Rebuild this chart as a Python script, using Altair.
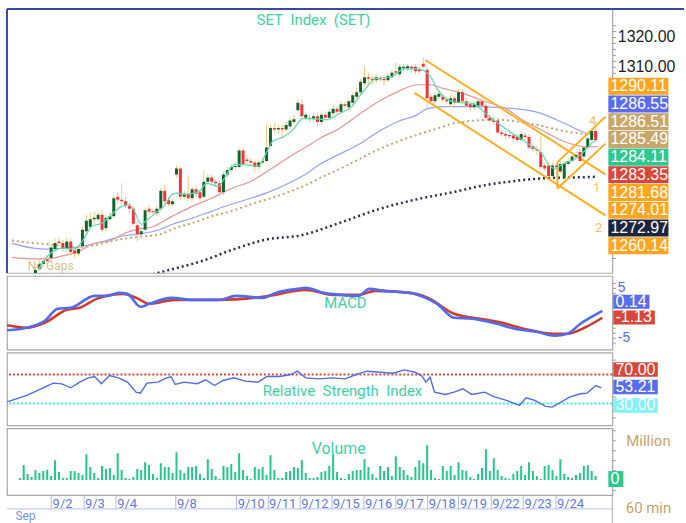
import altair as alt
import pandas as pd

# ---------------- candle data (hourly bars, index 0..147) ----------------
OPEN = [1238,1237,1238,1236.5,1239,1242.5,1244,1245.5,
 1246,1249,1251.5,1251,1249,1251.5,1248.5,1247.5,
 1250,1255,1256.5,1259,1259,1260.5,1256,1259,
 1260,1266.5,1265.5,1265,1263.5,1262.5,1257,1254,
 1255.5,1262.5,1261.7,1261,1262.5,1268.5,1265.5,1264,
 1274,1276,1266.5,1267.5,1266,1269,1268,1266.5,
 1271.5,1273,1271.5,1271,1268,1274,1275.5,1276.5,
 1276.5,1282,1279,1278.5,1278,1276.5,1278,1278.5,
 1283.5,1289.5,1289,1289.5,1289,1290,1291.5,1295.5,
 1297.5,1293,1293,1292.5,1293.5,1291.5,1294,1293,
 1294.5,1296,1295,1297.5,1296.5,1298,1300,1301.5,
 1304.5,1306.5,1306,1305.5,1306.2,1306,1305.5,1306.5,
 1308.5,1307.5,1309.5,1309.5,1310,1310,1309,1311,
 1309,1300,1298.5,1300,1300,1299,1297.5,1299.5,
 1298,1301.5,1298.5,1297.5,1296.5,1297,1298.5,1297,
 1293,1292,1292,1288,1287.5,1287.2,1287,1286.5,
 1285.5,1287,1286.5,1283.5,1282.5,1281.5,1277,1277,
 1273.5,1277,1275,1272.7,1277.5,1278.5,1280,1281.5,
 1280,1283,1285.5,1288.5]
HIGH = [1239,1239,1238.5,1239.5,1243,1245.5,1246.5,1247,
 1250.5,1252.5,1253,1252,1253,1252.5,1249.5,1250,
 1256.5,1260.5,1261,1261.5,1261.5,1262,1260.5,1261.5,
 1267,1268,1271,1266.5,1264.5,1263.5,1258,1256.5,
 1263,1264,1262.5,1263.5,1269.5,1270.5,1266.5,1266,
 1277,1276.5,1268.5,1273.5,1270,1270.5,1269,1275.5,
 1274,1274,1272.5,1272,1275,1276.5,1277.5,1278,
 1283,1283,1280.5,1279.5,1279,1279,1279.5,1291,
 1290.5,1291,1290.5,1290.5,1291.5,1293,1294,1299,
 1299,1295,1294,1294.5,1294.5,1295,1295,1296,
 1297,1297,1298.5,1298.5,1299.5,1301.5,1303,1306,
 1310,1308,1307,1307.5,1307,1307,1308,1309,
 1311.5,1311,1311,1311,1310.5,1311,1310,1313,
 1310,1301,1301.5,1302,1301,1300,1300.5,1300.5,
 1302.5,1302.5,1299.5,1298.5,1298.5,1299.5,1299.5,1298,
 1294,1293.5,1293,1289,1288.5,1288,1288,1287.5,
 1288.5,1288,1287.5,1284.5,1283.5,1287,1278,1278,
 1278,1278,1278.5,1278.5,1279.5,1281,1281.5,1282.5,
 1283.5,1286.5,1289,1289.5]
LOW = [1236,1236.5,1235.5,1236,1238.5,1241.5,1243,1244,
 1245,1248,1250.5,1248,1248,1247,1246,1246.5,
 1249.5,1254,1256,1257.5,1258,1254.5,1255,1258.5,
 1259.5,1264.5,1264,1262.5,1261,1256.5,1251.5,1253,
 1255,1260.5,1260,1260,1261.5,1264,1263,1263.5,
 1273,1265.5,1265.5,1265,1265,1266.5,1265,1266,
 1270.5,1270.5,1270,1266.5,1267,1273,1274.5,1275.5,
 1276,1276.5,1277.5,1277,1275,1275.5,1277,1278,
 1283,1288,1287.5,1286,1288,1289,1290.5,1295,
 1292.5,1292,1291.5,1291.5,1290,1290.5,1292,1292.5,
 1293.5,1294,1294.5,1296,1295.5,1297,1299,1300.5,
 1303.5,1304,1304,1304.5,1305,1303.5,1305,1306,
 1307,1306.5,1308.5,1308.5,1308,1307.5,1307.5,1309.5,
 1296.5,1297.5,1297.5,1299,1298,1297.5,1296.5,1297,
 1297.5,1297.5,1296,1295.5,1295.5,1296,1296,1292,
 1291,1290.5,1287.5,1286.5,1286,1286,1285,1284.5,
 1285,1285.5,1282.5,1281.5,1280.5,1276,1275,1273,
 1273,1272.5,1274,1272,1277,1278,1279,1278,
 1279.5,1282.5,1285,1285]
CLOSE = [1237,1238,1236.5,1239,1242,1244,1245,1245,
 1249.5,1251,1251,1249,1251.5,1248,1247.5,1249,
 1255.5,1258.5,1259,1259.5,1260.5,1255.5,1259.5,1260,
 1266,1265.5,1265,1263.5,1262.5,1257.5,1254,1255,
 1262,1261.5,1261.3,1262.5,1268.5,1265,1264,1265,
 1276,1266.5,1267.5,1266,1269,1267.5,1266,1271.5,
 1273,1271.5,1271,1268,1274,1275.5,1276.5,1276.8,
 1282,1277.5,1278.5,1278,1276.5,1278,1278.5,1283,
 1289.5,1289,1289.5,1289,1290.5,1292,1292.5,1298,
 1293.5,1294,1292.5,1293.5,1291.5,1294,1293,1295,
 1296,1295,1297.5,1297,1298.5,1300.5,1301.5,1305,
 1306.5,1306,1305.5,1306.5,1305.8,1305.5,1307,1308,
 1308,1310,1310,1310.2,1309.5,1308.5,1308.5,1310,
 1299.5,1298.5,1300.5,1301,1299,1298.5,1299.5,1298,
 1301.5,1298.5,1297,1296.5,1297.5,1298.5,1297,1293,
 1292,1291.5,1288,1287.5,1287,1286.8,1286,1285.5,
 1287.5,1286.5,1283,1282.5,1282,1276.5,1276,1273.5,
 1277,1276.5,1277.5,1277.7,1278.5,1280,1280.5,1278.5,
 1283,1286,1288.5,1285.5]
VOLUME = [2,15,6,3,10,7,9,10,
 4,20,8,2,2,9,9,7,
 5,26,13,7,2,14,11,12,
 5,27,10,2,1,3,11,10,
 18,15,6,2,17,13,13,7,
 28,10,7,13,13,14,6,2,
 21,11,4,1,14,13,16,8,
 27,10,4,1,13,11,13,5,
 25,10,2,2,8,9,13,12,
 20,7,2,2,3,8,9,14,
 26,8,2,1,6,9,10,10,
 21,13,6,2,14,9,13,4,
 24,13,10,5,3,13,20,17,
 35,10,2,1,14,9,14,5,
 18,10,9,3,1,6,12,31,
 9,22,10,4,2,1,6,9,
 14,5,18,9,4,1,14,15,
 10,4,21,6,3,2,5,7,
 14,15,9,4]

# ---------------- moving averages (read at sample bars) ----------------
MA_GREEN_X = [4.75,8.5,11,14,16,18.5,21,23.5,26,27.75,29.25,31,32.75,35.25,36.75,39,40.25,42.25,45.75,47.75,50.75,52.25,54.75,57.25,60.75,62.75,64.5,67.25,69.75,72.25,74.75,78.25,81.5,84.75,87.25,90.75,94.75,98.25,101.5,104.75,106.5,108.25,110.75,115.75,119,122.25,125.75,128.25,130.75,133.25,134.75,136.5,139,141.5,143.25,144.75,146.5,147.5]
MA_GREEN_Y = [1242.3,1248.3,1249.3,1249,1251.7,1256.7,1257.7,1260.7,1263.3,1264,1261.7,1257.3,1259,1261.7,1263.3,1267.3,1267.7,1267.3,1268.3,1271,1270,1272.7,1277.3,1277.3,1276.7,1280.7,1285,1286.5,1289,1292.7,1292.7,1292.3,1294.3,1296.7,1301,1306,1306.7,1309.3,1309.3,1307,1302.7,1300,1298.3,1297.7,1294.3,1291,1287.7,1285.7,1283.3,1281,1277.7,1276,1277.7,1279,1280.7,1282.7,1285,1285.5]
MA_RED_X = [-2,3.5,6.75,11,15.25,18.5,22.75,26.75,30.25,33.5,38.5,44,49,54,59,64,69,73.25,76.5,81.5,86.5,91.5,96.5,101.5,104.75,108.25,111.5,114,119,124,129,134,139,144,147.5]
MA_RED_Y = [1246.2,1245.7,1245.7,1246.7,1248.3,1250.7,1251.7,1254.3,1255.7,1256.3,1259.7,1263.3,1266,1269.3,1271.7,1275.7,1280,1283.3,1286,1289.3,1294,1298.3,1301.7,1304,1304,1302.7,1301.7,1300.7,1298.3,1296,1291.7,1288.3,1285,1283.3,1283.3]
MA_BLUE_X = [-2,3.5,6.75,11,15.25,18.5,21.75,26,30.25,35.25,39,44,49,54,59,64,69,73.25,76.5,81.5,86.5,91.5,96.5,101.5,104,108.25,116.5,123.25,131.5,139.75,144.75,147.5]
MA_BLUE_Y = [1250.9,1249.3,1249,1249.3,1249.7,1250.7,1251.7,1253.3,1254,1255.3,1257.3,1259.3,1261.7,1264,1266,1268.3,1271.3,1274.3,1277.3,1280.7,1284,1288.3,1291.7,1294,1296,1296.7,1296.7,1296.3,1295,1290.7,1287.7,1287.3]
MA_TAN_X = [-2,3.5,6.75,11,15.25,19.25,23.5,27.75,31.75,36,39,44,49,54,59,64,69,74,76.5,81.5,86.5,91.5,96.5,101.5,106.5,111.5,121.5,131.5,139.75,147.5]
MA_TAN_Y = [1251.9,1251,1250.7,1250,1249.7,1250.3,1251.7,1252.7,1253.3,1254,1255.7,1257.7,1260,1261.7,1264,1266,1268.3,1271,1272.7,1275.7,1279,1282.3,1285,1287.3,1289.3,1291.3,1292.3,1290.7,1288.3,1287]
MA_NAVY_X = [-2,21.5,36,46.5,54.75,63.25,71.5,81.5,91.5,101.5,111.5,117.25,125.75,134,142.25,147.5]
MA_NAVY_Y = [1230,1236.5,1241.3,1245,1249,1252.3,1253.5,1257.7,1262.3,1265.7,1268.3,1270,1271.7,1272.7,1273,1273.2]

# ---------------- trend channels ----------------
CHANNEL_ID = ["d1","d1","d2","d2","a1","a1","a2","a2","v","v"]
CHANNEL_X = [103.5,149.5,100.75,149.5,137.25,149.5,137.25,149.5,137.25,137.25]
CHANNEL_Y = [1312.3,1274.0,1301.3,1260.3,1269.3,1284.3,1278.1,1293.3,1269.3,1278.1]
CHANNEL_LABELS = ["4","1","2"]
CHANNEL_LABEL_X = [146.25,147.25,147.75]
CHANNEL_LABEL_Y = [1291.7,1269.3,1256.0]

# ---------------- MACD / RSI ----------------
MACD_X = [-2,3,7.5,10.75,14,20,23.25,26,28.25,31.5,33.75,39.25,44.75,51.25,55.5,62.25,65.5,71,73,77.5,81.75,86.25,89,92.75,99.25,102.5,106,110.25,114.75,120,125.5,131,135.5,138.75,142,145.25,147.5]
MACD_Y = [-3.5,-3.0,-1.6,0.8,1.0,3.4,3.4,4.0,3.8,1.2,1.8,3.0,2.6,2.6,3.4,3.0,4.0,4.8,5.0,4.0,3.6,3.4,4.8,4.4,4.0,3.2,1.8,-1.0,-1.2,-2.0,-3.2,-3.8,-4.6,-4.2,-2.2,-0.6,0.4]
SIGNAL_X = [-2,3,7.5,13,16.25,20.5,27.25,30.5,33.75,40.25,51.25,62.25,73,79.75,86.25,90.5,99.25,103.75,110.25,116.75,122.25,127.75,135.5,138.75,143,147.5]
SIGNAL_Y = [-2.5,-3.0,-2.0,0.6,1.0,2.8,3.8,3.0,1.8,2.6,2.6,3.2,4.6,3.6,3.6,4.4,4.0,3.0,-0.2,-1.2,-2.0,-3.2,-4.2,-4.2,-3.0,-1.0]
RSI_X = [-2,3,7.5,9.6,11.75,14,16.25,18.4,20,21.7,23.75,26,28.25,30.4,31.5,33.15,35.9,37.5,39.2,40.25,42.45,45.75,47.9,50.1,52.25,55,57.75,61,63.25,66.5,69.25,70.9,73,76.4,79.65,82.9,85.7,88.4,91.7,95,97.7,100.45,102.1,103.2,104.25,105.35,108.1,110.25,112.5,114.65,117.95,120.1,123.4,126.7,128.35,130.5,133.25,134.9,137.1,139.25,142,143.65,145.85,147.25]
RSI_Y = [32,41,52.5,58,57,51.6,59.4,65.4,67.2,57.2,68.6,65.4,59.4,45.6,44.2,58,59.4,64,67.2,56.2,59.4,57.2,62.7,54.8,61.7,65.4,60.8,59.4,67.2,67.2,70,74.6,65.4,64,65.4,64,70,74.6,73.2,71.8,76.4,73.2,68.6,59.4,66.3,45.6,42.4,45.6,50.3,42.4,45.6,39.7,34.1,27.2,37.8,34.1,25.9,24.9,31.8,38.7,43.4,44.2,54.8,51.6]
RSI_LEVELS = [70, 30]
RSI_LEVEL_COLORS = ["#E0453A", "#3FE6F0"]

# ---------------- date axis ----------------
DATE_TICK_BARS = [8,16.25,24.5,39.75,55.25,63.25,71.5,79.5,87.75,95.75,104,112,120.25,128.5,136.75]
DATE_LABELS = ["9/2","9/3","9/4","9/8","9/10","9/11","9/12","9/15","9/16","9/17","9/18","9/19","9/22","9/23","9/24"]

# ---------------- value tags ----------------
PRICE_TAGS = ["1290.11","1286.55","1286.51","1285.49","1284.11","1283.35","1281.68","1274.01","1272.97","1260.14"]
PRICE_TAG_COLORS = ["#FFA51F","#5A6CF2","#C8A76B","#C8A76B","#2EC88F","#DA463A","#FFA51F","#FFA51F","#1B2540","#FFA51F"]
MACD_TAGS = ["0.14","-1.13"]
MACD_TAG_COLORS = ["#5A6CF2","#DA463A"]
RSI_TAGS = ["70.00","53.21","30.00"]
RSI_TAG_COLORS = ["#DA463A","#5A6CF2","#7FF3F6"]
VOL_TAGS = ["0"]
VOL_TAG_COLORS = ["#2EC88F"]

# ---------------- layout ----------------
W = 608
H_PRICE, H_MACD, H_RSI, H_VOL = 265, 74, 73, 67
X_DOMAIN = [-2, 150]
BAR_PX = W / (X_DOMAIN[1] - X_DOMAIN[0])
PRICE_DOM = [1241.0, 1329.33]
MACD_DOM = [-7.4, 7.4]
RSI_DOM = [-0.35, 100.34]
VOL_DOM = [-15, 52]
FONT = "Liberation Sans"
GREEN_TXT = "#3ED3A3"


def xenc(axis=None):
    return alt.X("j:Q", scale=alt.Scale(domain=X_DOMAIN, nice=False, zero=False), axis=axis)


def yenc(field, dom, axis):
    return alt.Y(field, scale=alt.Scale(domain=dom, nice=False, zero=False), axis=axis)


def line_layer(xv, yv, dom, axis, color, width, dash=None, interp="monotone", xaxis=None):
    df = pd.DataFrame({"j": xv, "v": yv})
    kw = dict(color=color, strokeWidth=width, clip=True, interpolate=interp)
    if dash:
        kw["strokeDash"] = dash
    return alt.Chart(df).mark_line(**kw).encode(x=xenc(xaxis), y=yenc("v:Q", dom, axis))


def text_layer(txt, j, v, dom, axis, color, size, align="center", xaxis=None):
    df = pd.DataFrame({"j": [j], "v": [v], "t": [txt]})
    return alt.Chart(df).mark_text(color=color, fontSize=size, font="Roboto", align=align,
                                   baseline="middle", clip=False).encode(
        x=xenc(xaxis), y=yenc("v:Q", dom, axis), text="t:N")


def tag_layers(labels, colors, centers, half, dom, axis, xaxis=None):
    left = X_DOMAIN[1] + 1 / BAR_PX
    rights, lefts = [], []
    for s in labels:
        wpx = 7 + 8.34 * len(s) - 4 * s.count(".") - 3 * s.count("-")
        lefts.append(left)
        rights.append(left + wpx / BAR_PX)
    df = pd.DataFrame({"j": lefts, "j2": rights, "v": [c - half for c in centers],
                       "v2": [c + half for c in centers], "c": colors, "t": labels,
                       "m": centers, "jt": [l + 2.2 / BAR_PX for l in lefts]})
    rect = alt.Chart(df).mark_rect(clip=False).encode(
        x=xenc(xaxis), x2="j2:Q", y=yenc("v:Q", dom, axis), y2="v2:Q",
        color=alt.Color("c:N", scale=None))
    txt = alt.Chart(df).mark_text(color="white", fontSize=16, font=FONT, align="left",
                                  baseline="middle", clip=False).encode(
        x=alt.X("jt:Q", scale=alt.Scale(domain=X_DOMAIN, nice=False, zero=False), axis=xaxis),
        y=yenc("m:Q", dom, axis), text="t:N")
    return [rect, txt]


bars = pd.DataFrame({"j": list(range(len(CLOSE))), "open": OPEN, "high": HIGH,
                     "low": LOW, "close": CLOSE, "vol": VOLUME})
bars["dir"] = ["up" if c >= o else "down" for o, c in zip(OPEN, CLOSE)]

# ---------------- price panel ----------------
price_axis = alt.Axis(orient="right", values=[1246 + 2 * k for k in range(40)],
                      labelExpr="(datum.value == 1310 || datum.value == 1320) ? format(datum.value, '.2f') : ''",
                      tickSize=3, tickColor="#9A9A9A", domain=False, grid=False, labelFontSize=16,
                      labelColor="#1E1E1E", labelFont=FONT, labelPadding=2, labelOverlap=False, title=None)

wicks = alt.Chart(bars).mark_rule(color="#F7C87C", strokeWidth=1, clip=True).encode(
    x=xenc(), y=yenc("low:Q", PRICE_DOM, price_axis), y2="high:Q")
bodies = alt.Chart(bars).mark_bar(size=3, clip=True).encode(
    x=xenc(), y=yenc("open:Q", PRICE_DOM, price_axis), y2="close:Q",
    color=alt.Color("dir:N", scale=alt.Scale(domain=["up", "down"], range=["#11652B", "#F2333A"]), legend=None))

chan_df = pd.DataFrame({"j": CHANNEL_X, "v": CHANNEL_Y, "id": CHANNEL_ID})
channels = alt.Chart(chan_df).mark_line(color="#FFAE1F", strokeWidth=2, clip=True).encode(
    x=xenc(), y=yenc("v:Q", PRICE_DOM, price_axis), detail="id:N")
chan_lab_df = pd.DataFrame({"j": CHANNEL_LABEL_X, "v": CHANNEL_LABEL_Y, "t": CHANNEL_LABELS})
chan_labels = alt.Chart(chan_lab_df).mark_text(color="#FFBE5C", fontSize=13, font="Roboto").encode(
    x=xenc(), y=yenc("v:Q", PRICE_DOM, price_axis), text="t:N")

frame = alt.Chart(pd.DataFrame({"a": [0]}))
top_border = frame.mark_rule(color="#3C48A6", strokeWidth=2).encode(
    x=alt.value(0), x2=alt.value(680), y=alt.value(0))
left_border = frame.mark_rule(color="#3C48A6", strokeWidth=2).encode(
    x=alt.value(0), y=alt.value(0), y2=alt.value(H_PRICE))

price_layers = [
    line_layer(MA_NAVY_X, MA_NAVY_Y, PRICE_DOM, price_axis, "#27324F", 2.5, dash=[2, 3]),
    line_layer(MA_TAN_X, MA_TAN_Y, PRICE_DOM, price_axis, "#C9A56A", 2, dash=[2, 3]),
    line_layer(MA_BLUE_X, MA_BLUE_Y, PRICE_DOM, price_axis, "#96A4FF", 1.2),
    line_layer(MA_RED_X, MA_RED_Y, PRICE_DOM, price_axis, "#E89696", 1.2),
    channels,
    wicks, bodies,
    line_layer(MA_GREEN_X, MA_GREEN_Y, PRICE_DOM, price_axis, "#5ED8B2", 1.2),
    chan_labels,
    text_layer("SET\u00a0\u00a0Index\u00a0\u00a0(SET)", 75, 1325.7, PRICE_DOM, price_axis, GREEN_TXT, 15),
    text_layer("No Gaps", 7.9, 1243.2, PRICE_DOM, price_axis, "#D9BF8D", 12),
] + tag_layers(PRICE_TAGS, PRICE_TAG_COLORS,
               [1303.5 - 5.93 * k for k in range(len(PRICE_TAGS))], 2.85, PRICE_DOM, price_axis) + [top_border, left_border]

price = alt.layer(*price_layers).properties(width=W, height=H_PRICE)

# ---------------- MACD panel ----------------
macd_axis = alt.Axis(orient="right", values=list(range(-6, 7)),
                     labelExpr="datum.value == 5 ? '5' : (datum.value == -5 ? '-5' : '')",
                     tickSize=3, tickColor="#9A9A9A", domain=False, grid=False, labelFontSize=14,
                     labelColor="#5A6CF2", labelFont=FONT, labelPadding=2, labelOverlap=False, title=None)
macd = alt.layer(
    line_layer(SIGNAL_X, SIGNAL_Y, MACD_DOM, macd_axis, "#D83A2A", 2.6),
    line_layer(MACD_X, MACD_Y, MACD_DOM, macd_axis, "#4F6BF0", 2.6),
    text_layer("MACD", 83, 1.9, MACD_DOM, macd_axis, GREEN_TXT, 15),
    *tag_layers(MACD_TAGS, MACD_TAG_COLORS, [2.2, -0.95], 1.4, MACD_DOM, macd_axis),
).properties(width=W, height=H_MACD)

# ---------------- RSI panel ----------------
rsi_axis = alt.Axis(orient="right", values=list(range(10, 91, 10)), labels=False,
                    tickSize=3, tickColor="#9A9A9A", domain=False, grid=False, title=None)
lvl_df = pd.DataFrame({"v": RSI_LEVELS, "c": RSI_LEVEL_COLORS})
levels = alt.Chart(lvl_df).mark_rule(strokeWidth=2, strokeDash=[2, 2]).encode(
    y=yenc("v:Q", RSI_DOM, rsi_axis), color=alt.Color("c:N", scale=None))
rsi = alt.layer(
    levels,
    line_layer(RSI_X, RSI_Y, RSI_DOM, rsi_axis, "#4F6BF0", 1.4, interp="linear"),
    text_layer("Relative\u00a0\u00a0Strength\u00a0\u00a0Index", 82.25, 46.6, RSI_DOM, rsi_axis, GREEN_TXT, 15),
    *tag_layers(RSI_TAGS, RSI_TAG_COLORS, [76.9, 52.8, 27.2], 10, RSI_DOM, rsi_axis),
).properties(width=W, height=H_RSI)

# ---------------- volume panel ----------------
ticks_js = ",".join(str(v) for v in DATE_TICK_BARS)
labels_js = ",".join("'" + s + "'" for s in DATE_LABELS)
date_axis = alt.Axis(values=DATE_TICK_BARS, labelExpr=f"[{labels_js}][indexof([{ticks_js}], datum.value)]",
                     tickSize=14, tickColor="#AEB8F2", tickWidth=1, domain=False, grid=False,
                     labelAlign="left", labelBaseline="middle", labelPadding=-5, labelOffset=1,
                     labelColor="#6479E6", labelFontSize=13, labelFont="Roboto", labelOverlap=False,
                     labelFlush=False, title="Sep", titleAnchor="start", titleAlign="left",
                     titleBaseline="middle", titleX=8, titleY=21, titleColor="#7F92E8",
                     titleFontSize=12, titleFontWeight="normal", titleFont="Roboto")
vol_axis = alt.Axis(orient="right", values=list(range(-10, 51, 10)), labels=False,
                    tickSize=3, tickColor="#9A9A9A", domain=False, grid=False, title=None)
vol_bars = alt.Chart(bars).mark_bar(size=2, color="#22C88A", clip=True).encode(
    x=xenc(date_axis), y=yenc("vol:Q", VOL_DOM, vol_axis), y2=alt.datum(0))
strip_line = frame.mark_rule(color="#B8C2F4", strokeWidth=1).encode(
    x=alt.value(0), x2=alt.value(W), y=alt.value(H_VOL + 14))
strip_right = frame.mark_rule(color="#A9A9A9", strokeWidth=1).encode(
    x=alt.value(W), y=alt.value(H_VOL), y2=alt.value(H_VOL + 30))
vol = alt.layer(
    vol_bars,
    text_layer("Volume", 81.4, 31.5, VOL_DOM, vol_axis, GREEN_TXT, 16, xaxis=date_axis),
    text_layer("Million", 160.5, 39, VOL_DOM, vol_axis, "#C8A46A", 15, xaxis=date_axis),
    text_layer("60 min", 160.5, -28, VOL_DOM, vol_axis, "#C8A46A", 15, xaxis=date_axis),
    *tag_layers(VOL_TAGS, VOL_TAG_COLORS, [1], 8, VOL_DOM, vol_axis, xaxis=date_axis),
    strip_line, strip_right,
).properties(width=W, height=H_VOL)

chart = alt.vconcat(price, macd, rsi, vol, spacing=3, bounds="flush").properties(
    padding={"left": 5, "top": 6, "right": 0, "bottom": 0}, background="white"
).configure_view(stroke="#A9A9A9", strokeWidth=1.2)

chart.save("out.html", embed_options={"renderer": "svg", "actions": False})
